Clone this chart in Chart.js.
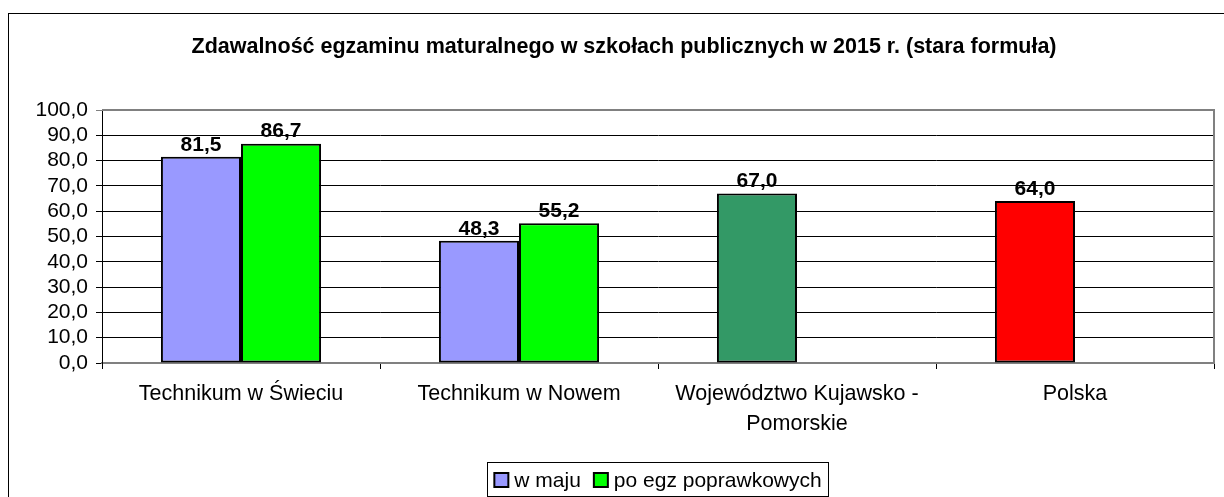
<!DOCTYPE html>
<html lang="pl">
<head>
    <meta charset="UTF-8">
    <title>Zdawalność egzaminu maturalnego 2015</title>
    <script src="https://cdn.jsdelivr.net/npm/chart.js"></script>
    <style>
        body {
            margin: 0;
            background: #ffffff;
            font-family: Arial, "Liberation Sans", sans-serif;
        }
        .frame {
            position: absolute;
            left: 8px;
            top: 13px;
            width: 1300px;
            height: 600px;
            border-left: 1px solid #000;
            border-top: 1px solid #000;
        }
        .chart-box {
            position: absolute;
            left: 0;
            top: 0;
            width: 1224px;
            height: 497px;
        }
    </style>
</head>
<body>
    <div class="frame"></div>
    <div class="chart-box">
        <canvas id="examChart"></canvas>
    </div>

    <script>
        const chartTitle = 'Zdawalność egzaminu maturalnego w szkołach publicznych w 2015 r. (stara formuła)';
        const categories = [
            'Technikum w Świeciu',
            'Technikum w Nowem',
            ['Województwo Kujawsko -', 'Pomorskie'],
            'Polska'
        ];
        const seriesNames = ['w maju', 'po egz poprawkowych'];
        const mayValues = [81.5, 48.3, 67.0, 64.0];
        const retakeValues = [86.7, 55.2, null, null];
        const mayColors = ['#9999FF', '#9999FF', '#339966', '#FF0000'];
        const retakeColor = '#00FF00';

        const FONT = 'Arial, "Liberation Sans", sans-serif';
        const fmt = v => v.toFixed(1).replace('.', ',');

        // value labels above bars, plot frame, title and boxed legend
        const decorations = {
            id: 'decorations',
            afterDatasetsDraw(chart) {
                const ctx = chart.ctx;
                ctx.save();
                ctx.font = 'bold 21px ' + FONT;
                ctx.fillStyle = '#000';
                ctx.textAlign = 'center';
                ctx.textBaseline = 'middle';
                chart.data.datasets.forEach((ds, i) => {
                    chart.getDatasetMeta(i).data.forEach((bar, j) => {
                        const v = ds.data[j];
                        if (v === null) return;
                        ctx.fillText(fmt(v), bar.x, bar.y - 12);
                    });
                });
                ctx.restore();
            },
            afterDraw(chart) {
                const ctx = chart.ctx;
                const area = chart.chartArea;
                ctx.save();

                // grey top/right frame of the plot
                ctx.strokeStyle = '#808080';
                ctx.lineWidth = 2;
                ctx.beginPath();
                ctx.moveTo(area.left, area.top);
                ctx.lineTo(area.right, area.top);
                ctx.lineTo(area.right, area.bottom);
                ctx.stroke();

                // title
                ctx.font = 'bold 21.5px ' + FONT;
                ctx.fillStyle = '#000';
                ctx.textAlign = 'center';
                ctx.textBaseline = 'middle';
                ctx.fillText(chartTitle, 624, 47);

                // legend
                ctx.font = '21px ' + FONT;
                const colors = [mayColors[0], retakeColor];
                const box = 14, gapText = 6, gapItem = 13, pad = 7;
                let total = 0;
                const widths = seriesNames.map(n => ctx.measureText(n).width);
                widths.forEach((w, i) => { total += box + gapText + w + (i ? gapItem : 0); });
                const cx = (area.left + area.right) / 2;
                const lx = cx - total / 2 - pad;
                const ly = 462, lh = 34;
                ctx.strokeStyle = '#000';
                ctx.lineWidth = 1;
                ctx.strokeRect(Math.round(lx) + 0.5, ly + 0.5, Math.round(total + pad * 2), lh);
                let x = cx - total / 2;
                const my = ly + lh / 2 + 1;
                ctx.textAlign = 'left';
                seriesNames.forEach((n, i) => {
                    ctx.fillStyle = colors[i];
                    ctx.fillRect(x, my - box / 2, box, box);
                    ctx.lineWidth = 2;
                    ctx.strokeStyle = '#000';
                    ctx.strokeRect(x, my - box / 2, box, box);
                    ctx.fillStyle = '#000';
                    ctx.fillText(n, x + box + gapText, my + 1);
                    x += box + gapText + widths[i] + gapItem;
                });
                ctx.restore();
            }
        };

        new Chart(document.getElementById('examChart'), {
            type: 'bar',
            data: {
                labels: categories,
                datasets: [
                    {
                        label: seriesNames[0],
                        data: mayValues,
                        backgroundColor: mayColors,
                        borderColor: '#000',
                        borderWidth: 2,
                        borderSkipped: false,
                        categoryPercentage: 0.576,
                        barPercentage: 1.0
                    },
                    {
                        label: seriesNames[1],
                        data: retakeValues,
                        backgroundColor: retakeColor,
                        borderColor: '#000',
                        borderWidth: 2,
                        borderSkipped: false,
                        categoryPercentage: 0.576,
                        barPercentage: 1.0
                    }
                ]
            },
            options: {
                responsive: true,
                maintainAspectRatio: false,
                animation: false,
                layout: {
                    padding: { left: 8, right: 10, top: 110, bottom: 0 }
                },
                plugins: {
                    legend: { display: false },
                    title: { display: false },
                    tooltip: { enabled: false }
                },
                scales: {
                    x: {
                        afterFit: scale => { scale.height = 134; },
                        grid: {
                            offset: true,
                            drawOnChartArea: false,
                            drawTicks: true,
                            tickLength: 6,
                            color: '#000'
                        },
                        border: { color: '#808080', width: 2 },
                        ticks: {
                            color: '#000',
                            font: { family: FONT, size: 21.5, lineHeight: 1.4 },
                            padding: 10,
                            maxRotation: 0,
                            autoSkip: false
                        }
                    },
                    y: {
                        min: 0,
                        max: 100,
                        afterFit: scale => { scale.width = 94; },
                        grid: {
                            color: ctx => (ctx.tick && ctx.tick.value === 100) ? '#808080' : '#000',
                            tickLength: 6,
                            drawTicks: true
                        },
                        border: { color: '#000', width: 1 },
                        ticks: {
                            stepSize: 10,
                            autoSkip: false,
                            color: '#000',
                            font: { family: FONT, size: 21 },
                            padding: 8,
                            callback: v => fmt(v)
                        }
                    }
                }
            },
            plugins: [decorations]
        });
    </script>
</body>
</html>
